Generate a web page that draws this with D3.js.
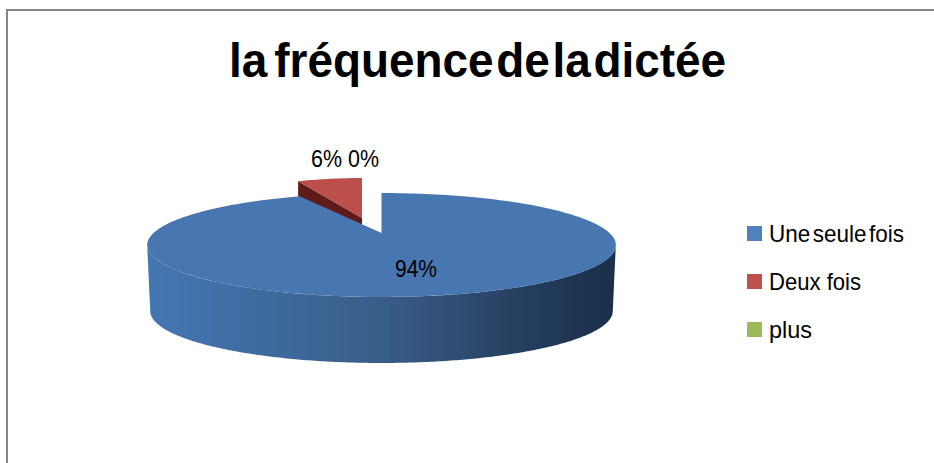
<!DOCTYPE html>
<html>
<head>
<meta charset="utf-8">
<script src="https://cdn.jsdelivr.net/npm/d3@7"></script>
<style>
  html, body { margin: 0; padding: 0; background: #fff; }
  svg { display: block; }
  text { font-family: "Liberation Sans", sans-serif; fill: #000; }
</style>
</head>
<body>
<div id="chart"></div>
<script>
const chartTitle = "la fréquence de la dictée";
const categories = ["Une seule fois", "Deux fois", "plus"];
const percents = [94, 6, 0];
const colors = ["#4f81bd", "#c0504d", "#9bbb59"];

const width = 934, height = 463;
const svg = d3.select("#chart").append("svg")
    .attr("width", width)
    .attr("height", height);

// chart frame, only top and left are in the crop
svg.append("path")
    .attr("d", `M7,${height}V10H${width}`)
    .attr("fill", "none")
    .attr("stroke", "#868686")
    .attr("stroke-width", 2);

// the first gap in the title is wider than the others
const title = svg.append("text")
    .attr("x", 229)
    .attr("y", 77)
    .attr("font-size", 48)
    .attr("font-weight", "bold")
    .attr("textLength", 497)
    .attr("lengthAdjust", "spacingAndGlyphs");
const firstSpace = chartTitle.indexOf(" ") + 1;
title.append("tspan").style("word-spacing", "-6px").text(chartTitle.slice(0, firstSpace));
title.append("tspan").style("word-spacing", "-10.5px").text(chartTitle.slice(firstSpace));

// perspective projection of the pie disc
const cx = 381.5, cy = 233, radius = 228, depth = 66;
const persp = 0.2308, flat = 49.2, warp = 0.105;
const project = a => {
    const w = a + warp * Math.sin(2 * a);
    const u = Math.sin(w), v = -Math.cos(w), d = 1 - persp * v;
    return [radius * u / d, flat * v / d];
};

const pie = d3.pie().sort(null).value(d => d);
const slices = pie(percents);
const line = d3.line();
const sweep = (a0, a1, n) => d3.range(n + 1).map(i => a0 + (a1 - a0) * i / n);

const defs = svg.append("defs");
const wallGrad = defs.append("linearGradient")
    .attr("id", "wall")
    .attr("gradientUnits", "userSpaceOnUse")
    .attr("x1", 148).attr("x2", 616).attr("y1", 0).attr("y2", 0);
[[0, "#4476b2"], [0.1, "#4172ac"], [0.3, "#3d6899"], [0.5, "#395d89"], [0.72, "#2c4669"], [0.9, "#1f3653"], [1, "#1b2f49"]]
    .forEach(s => wallGrad.append("stop").attr("offset", s[0]).attr("stop-color", s[1]));

// red slice, pulled out from the pie
const redTip = [362, 218], redScaleX = 0.78;
const red = slices[1];
const redPoint = a => {
    const p = project(a === 2 * Math.PI ? 0 : a - 2 * Math.PI);
    return [redTip[0] + p[0] * redScaleX, redTip[1] + p[1]];
};
const redCorner = redPoint(red.startAngle);
svg.append("path")
    .attr("d", line([redTip, redCorner, [redCorner[0], redCorner[1] + depth], [redTip[0], redTip[1] + depth]]) + "Z")
    .attr("fill", "#5e1b1a");
svg.append("path")
    .attr("d", line([redTip].concat(sweep(red.startAngle, red.endAngle, 24).map(redPoint))) + "Z")
    .attr("fill", "#bd4f4b");

// side wall of the blue slice: runs between the two widest points of the disc
const rim = sweep(0, Math.PI * 2, 720).map(project);
const iRight = d3.greatest(d3.range(rim.length), (a, b) => d3.ascending(rim[a][0], rim[b][0]));
const iLeft = d3.least(d3.range(rim.length), (a, b) => d3.ascending(rim[a][0], rim[b][0]));
const front = rim.slice(iRight, iLeft + 1).map(p => [cx + p[0], cy + p[1]]);
const wallBottom = front.map(p => [cx + (p[0] - cx) * 0.987, p[1] + depth]).reverse();
svg.append("path")
    .attr("d", line(front.concat(wallBottom)) + "Z")
    .attr("fill", "url(#wall)");

// top of the blue slice
const blue = slices[0];
const topPts = sweep(blue.startAngle, blue.endAngle, 240).map(a => {
    const p = project(a);
    return [cx + p[0], cy + p[1]];
});
svg.append("path")
    .attr("d", line([[cx, cy]].concat(topPts)) + "Z")
    .attr("fill", "#4876b1");

// data labels
const labelPos = [[395, 277], [311, 167], [348, 167]];
const labelWidth = [42, 31, 31];
svg.selectAll("text.label")
    .data(percents)
    .join("text")
    .attr("class", "label")
    .attr("x", (d, i) => labelPos[i][0])
    .attr("y", (d, i) => labelPos[i][1])
    .attr("font-size", 24)
    .attr("textLength", (d, i) => labelWidth[i])
    .attr("lengthAdjust", "spacingAndGlyphs")
    .text(d => d + "%");

// legend
const legendY = d3.scalePoint().domain(categories).range([233.5, 329.5]);
const legendWidth = [135, 92, 43];
const legend = svg.selectAll("g.legend")
    .data(categories)
    .join("g")
    .attr("class", "legend")
    .attr("transform", d => `translate(747,${legendY(d)})`);
legend.append("rect")
    .attr("y", -7.5)
    .attr("width", 15)
    .attr("height", 15)
    .attr("fill", (d, i) => colors[i]);
legend.append("text")
    .attr("x", 22)
    .attr("y", 8)
    .attr("font-size", 24)
    .attr("textLength", (d, i) => legendWidth[i])
    .attr("lengthAdjust", "spacingAndGlyphs")
    .style("word-spacing", (d, i) => i === 0 ? "-4px" : "0")
    .text(d => d);
</script>
</body>
</html>
